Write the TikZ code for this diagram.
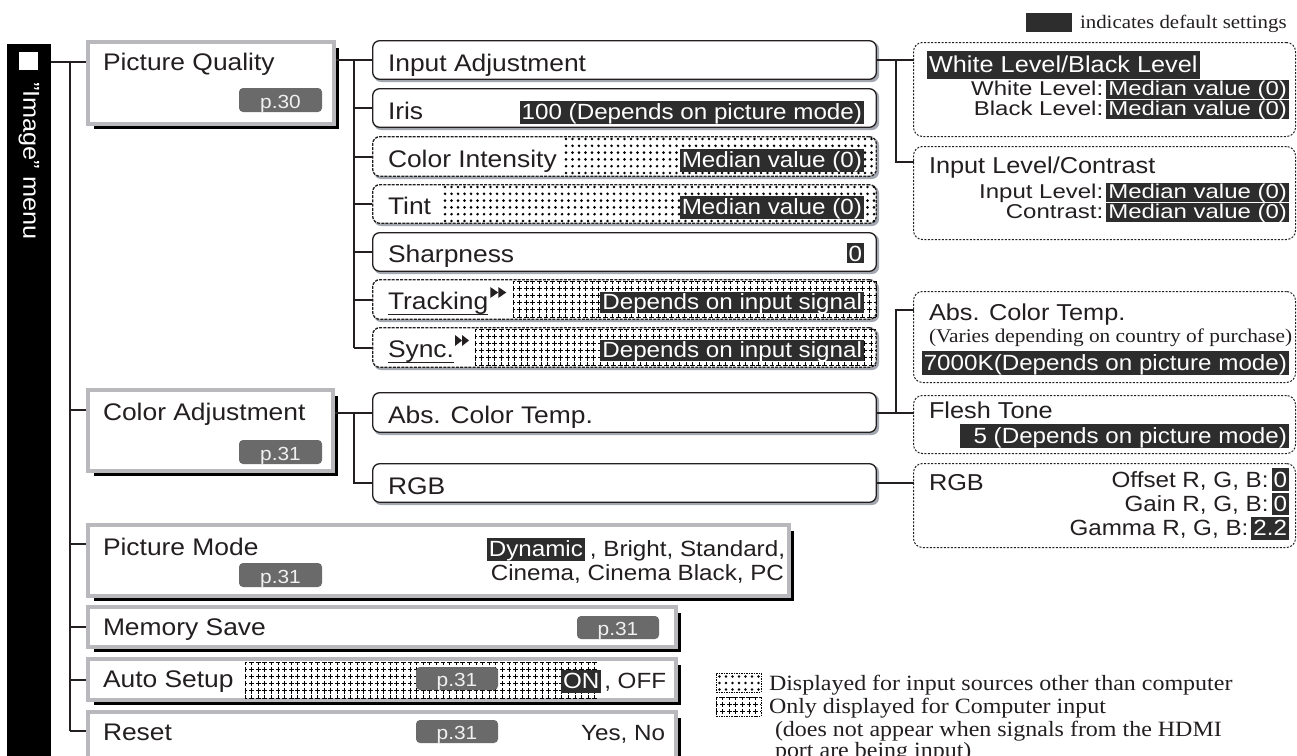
\documentclass[tikz,border=0pt]{standalone}
\usepackage{fontspec}
\setmainfont{Liberation Sans}[FakeStretch=1.1]
\newfontfamily\widesans{Liberation Sans}[FakeStretch=1.2]
\newfontfamily\tnr{Liberation Serif}[FakeStretch=1.1]
\usetikzlibrary{fit,calc}
\definecolor{ink}{HTML}{231F20}
\definecolor{hlc}{HTML}{2D2D2D}
\definecolor{bord}{HTML}{B9B9BD}
\definecolor{badgec}{HTML}{6A6A6A}
\definecolor{shad}{HTML}{A3A8B0}
\newcommand\fsz[1]{\fontsize{#1}{#1}\selectfont}
% level-1 box: name, x1,y1,x2,y2 (outer edges)
\newcommand\Lone[5]{%
  \draw[l1sh] (#4+1.5,#3+8) -- (#4+1.5,#5+1.5) -- (#2+8,#5+1.5);
  \node[l1box, fit={(#2+2,#3+2)(#4-2,#5-2)}] (#1) {};}
% level-2 box: [style] name, ytop, ybottom
\newcommand\Ltwo[4][l2box]{%
  \fill[l2sh] (374,#3+2) rectangle (879,#4+2);
  \node[#1, fit={(372.7,#3+0.7)(876.3,#4-0.7)}] (#2) {};}
% level-3 box: name, ytop, ybottom
\newcommand\Lthree[3]{\node[l3box, fit={(913.5,#2+0.5)(1295.5,#3-0.5)}] (#1) {};}
% page badge: name, x1,y1,x2,y2, text
\newcommand\Badge[6]{%
  \node[badge, fit={(#2,#3)(#4,#5)}] (#1) {};
  \node[btxt] at ($(#1.south)+(0,-3.5)$) {#6};}
% cross grid: x1,y1,nx,ny,x2,y2
\newcommand\Grid[6]{%
  \foreach \i in {0,...,#3} \draw[gridv] (#1+\i*6.6,#2) -- (#1+\i*6.6,#6);
  \foreach \j in {0,...,#4} \draw[gridh] (#1,#2+\j*7.2) -- (#5,#2+\j*7.2);}
% dots: x1,y1,nx,ny,dx,dy
\newcommand\Dots[6]{%
  \foreach \i in {0,...,#3}{\foreach \j in {0,...,#4}{\fill[black] (#1+\i*#5,#2+\j*#6) circle (1.45pt);}}}
\begin{document}
\begin{tikzpicture}[x=1pt,y=-1pt,
  every node/.style={inner sep=0pt, outer sep=0pt, text=ink},
  conn/.style={line width=2pt, draw=ink},
  l1box/.style={draw=bord, line width=4pt, fill=white, inner sep=0pt, outer sep=2pt},
  l1sh/.style={line width=3.5pt, draw=black},
  l2box/.style={draw=ink, line width=1.3pt, rounded corners=7pt, fill=white, inner sep=0pt, outer sep=0.65pt},
  l2dash/.style={l2box, dash pattern=on 3pt off 1.2pt},
  l2sh/.style={fill=shad, rounded corners=7pt},
  l3box/.style={draw=ink, line width=1pt, dash pattern=on 2pt off 1.5pt, rounded corners=9pt, inner sep=0pt},
  lab1/.style={anchor=base west, font=\fsz{24}},
  lab2/.style={anchor=base west, font=\fsz{24}},
  val/.style={anchor=base east, fill=hlc, text=white, inner xsep=2pt, inner ysep=0pt, text height=18pt, text depth=5pt, font=\fsz{22}},
  hl3/.style={anchor=base east, fill=hlc, text=white, inner xsep=2pt, inner ysep=0pt, text height=15pt, text depth=4pt, font=\widesans\fsz{20}},
  sub/.style={anchor=base east, font=\widesans\fsz{20}},
  sub2/.style={anchor=base east, font=\fsz{22}},
  tit3/.style={anchor=base west, font=\fsz{23}},
  badge/.style={fill=badgec, rounded corners=4pt, inner sep=0pt},
  btxt/.style={text=white!94!black, font=\fsz{19}, anchor=base},
  gridv/.style={draw=black, line width=1pt, dash pattern=on 5.4pt off 1.8pt, dash phase=2.7pt},
  gridh/.style={draw=black, line width=1pt, dash pattern=on 4.8pt off 1.8pt, dash phase=2.4pt},
  leg/.style={anchor=base west, font=\tnr\fsz{21.8}}]
\useasboundingbox (0,0) rectangle (1297,755);
\clip (0,0) rectangle (1297,755);
\fill[white] (0,0) rectangle (1297,755);

% ---- left menu bar ----
\node[fill=black, fit={(7,44)(51,770)}] (bar) {};
\node[fill=white, fit={(19,52)(38,70)}] (barsq) {};
\node[rotate=-90, anchor=west, text=white, font=\fsz{23}] (barlab) at (29,82) {"Image" menu};

% ---- coordinates for junctions ----
\coordinate (T1) at (70,0);
\coordinate (T2) at (354,0);
\coordinate (T3) at (896,0);
\coordinate (r1) at (0,62);
\coordinate (r2) at (0,410);
\coordinate (r3) at (0,544);
\coordinate (r4) at (0,627);
\coordinate (r5) at (0,680);
\coordinate (r6) at (0,731);
\coordinate (r7) at (0,162);
\coordinate (r8) at (0,310);

% ---- level-1 boxes ----
\Lone{pq}{86}{40}{336}{126}
\Lone{ca}{86}{388}{335}{473}
\Lone{pm}{86}{523}{791}{598}
\Lone{ms}{86}{605}{678}{649}
\Lone{as}{86}{657}{678}{702}
\Lone{rs}{86}{710}{678}{775}

% ---- level-2 boxes ----
\Ltwo{ia}{40}{80}
\Ltwo{ir}{88}{128}
\Ltwo[l2dash]{ci}{136}{177}
\Ltwo[l2dash]{ti}{184}{224}
\Ltwo{sh}{232}{272}
\Ltwo[l2dash]{tr}{279}{320}
\Ltwo[l2dash]{sy}{327}{368}
\Ltwo{act}{392}{433}
\Ltwo{rgb}{463}{503}

% ---- level-3 boxes ----
\Lthree{wb}{42}{137}
\Lthree{ilc}{146}{240}
\Lthree{abs}{291}{383}
\Lthree{fl}{395}{454}
\Lthree{rgbt}{463}{548}

% ---- connectors ----
\draw[conn] (bar.east |- r1) -- (pq.west |- r1);
\draw[conn] (T1 |- r1) -- (T1 |- r6);
\foreach \b/\r in {ca/r2, pm/r3, ms/r4, as/r5, rs/r6}
  \draw[conn] (T1 |- \r) -- (\b.west |- \r);
\draw[conn] (pq.east |- ia.west) -- (ia.west);
\draw[conn] (T2 |- ia.west) -- (T2 |- sy.west);
\foreach \b in {ir,ci,ti,sh,tr,sy}
  \draw[conn] (T2 |- \b.west) -- (\b.west);
\draw[conn] (ca.east |- act.west) -- (act.west);
\draw[conn] (T2 |- act.west) -- (T2 |- rgb.west) -- (rgb.west);
\draw[conn] (ia.east) -- (wb.west |- ia.east);
\draw[conn] (T3 |- ia.east) -- (T3 |- r7) -- (ilc.west |- r7);
\draw[conn] (act.east) -- (fl.west |- act.east);
\draw[conn] (T3 |- act.east) -- (T3 |- r8) -- (abs.west |- r8);
\draw[conn] (rgb.east) -- (rgbt.west |- rgb.east);

% ---- patterns ----
\Dots{566}{139}{47}{5}{6.5}{6.8}
\Dots{445}{187}{66}{5}{6.5}{6.8}
\Grid{513}{281}{55}{5}{876}{317}
\Grid{475}{329}{60}{5}{876}{365}
\Grid{245}{662}{53}{5}{598}{698}

% ---- badges ----
\Badge{bpq}{239}{88}{322}{112}{p.30}
\Badge{bca}{239}{440}{322}{464}{p.31}
\Badge{bpm}{239}{563}{322}{587}{p.31}
\Badge{bms}{577}{616}{659}{639}{p.31}
\Badge{bas}{416}{667}{498}{690}{p.31}
\Badge{brs}{416}{720}{498}{743}{p.31}

% ---- level-1 texts ----
\node[lab1] (pqt) at (103,70) {Picture Quality};
\node[lab1] (cat) at (103,420) {Color Adjustment};
\node[lab1] (pmt) at (103,555) {Picture Mode};
\node[lab1] (mst) at (103,635) {Memory Save};
\node[lab1] (ast) at (103,687) {Auto Setup};
\node[lab1] (rst) at (103,740) {Reset};
\node[anchor=base east, font=\fsz{22}] (pm1) at (785,556) {, Bright, Standard,};
\node[val] (dyn) at ($(pm1.base west)+(-5,0)$) {Dynamic};
\node[anchor=base east, font=\fsz{22}] (pm2) at (784,580) {Cinema, Cinema Black, PC};
\node[val, anchor=base west] (on) at (561,688) {ON};
\node[anchor=base west, font=\fsz{22}] (off) at ($(on.base east)+(3,0)$) {, OFF};
\node[anchor=base east, font=\fsz{22}] (yn) at (665,740) {Yes, No};

% ---- level-2 texts ----
\node[lab2] (iat) at (388,71) {Input Adjustment};
\node[lab2] (irt) at (388,119) {Iris};
\node[val] (irv) at (864,119) {100 (Depends on picture mode)};
\node[lab2] (cit) at (388,167) {Color Intensity};
\node[val] (civ) at (864,167) {Median value (0)};
\node[lab2] (tit) at (388,214) {Tint};
\node[val] (tiv) at (864,214) {Median value (0)};
\node[lab2] (sht) at (388,262) {Sharpness};
\node[val, text depth=2pt] (shv) at (864,261) {0};
\node[lab2] (trt) at (388,309) {Tracking};
\node[val, text height=17pt, text depth=4pt] (trv) at (864,309) {Depends on input signal};
\node[lab2] (syt) at (388,357) {Sync.};
\node[val, text height=17pt, text depth=4pt] (syv) at (864,357) {Depends on input signal};
\draw[ink, line width=1pt] ($(trt.base west)+(0,5)$) -- ($(trt.base east)+(0,5)$);
\draw[ink, line width=1pt] ($(syt.base west)+(0,5)$) -- ($(syt.base east)+(0,5)$);
\fill[ink] ($(trt.base east)+(2,-22)$) -- ++(8,5.5) -- ++(-8,5.5) -- cycle;
\fill[ink] ($(trt.base east)+(10,-22)$) -- ++(8,5.5) -- ++(-8,5.5) -- cycle;
\fill[ink] ($(syt.base east)+(1,-22)$) -- ++(7,5.5) -- ++(-7,5.5) -- cycle;
\fill[ink] ($(syt.base east)+(8,-22)$) -- ++(7,5.5) -- ++(-7,5.5) -- cycle;
\node[lab2] (actt) at (388,423) {Abs. Color Temp.};
\node[lab2] (rgbtt) at (388,494) {RGB};

% ---- level-3 texts ----
\node[anchor=base west, fill=hlc, text=white, font=\fsz{23}, inner xsep=2pt, text height=21pt, text depth=7pt] (wbh) at (927,72) {White Level/Black Level\hspace{18pt}};
\node[hl3] (wlv) at (1289,95) {Median value (0)};
\node[sub] (wll) at ($(wlv.base west)+(-3,0)$) {White Level:};
\node[hl3] (blv) at (1289,115) {Median value (0)};
\node[sub] (bll) at ($(blv.base west)+(-3,0)$) {Black Level:};
\node[tit3] (ilct) at (929,173) {Input Level/Contrast};
\node[hl3] (ilv) at (1289,198) {Median value (0)};
\node[sub] (ill) at ($(ilv.base west)+(-3,0)$) {Input Level:};
\node[hl3] (cov) at (1289,218) {Median value (0)};
\node[sub] (col) at ($(cov.base west)+(-3,0)$) {Contrast:};
\node[tit3] (abst) at (929,320) {Abs. Color Temp.};
\node[anchor=base west, font=\tnr\fsz{19.4}] (absn) at (929,342) {(Varies depending on country of purchase)};
\node[val, text height=19pt, text depth=5pt] (absv) at (1289,370) {7000K(Depends on picture mode)};
\node[tit3] (flt) at (929,418) {Flesh Tone};
\node[val, text height=19pt, text depth=5pt] (flv) at (1289,443) {\hspace*{12pt}5 (Depends on picture mode)};
\node[tit3] (rgbl) at (929,490) {RGB};
\node[val, text height=19pt, text depth=4pt] (ofv) at (1289,487) {0};
\node[sub2] (ofl) at ($(ofv.base west)+(-3,0)$) {Offset R, G, B:};
\node[val, text height=18pt, text depth=4pt] (gav) at (1289,511) {0};
\node[sub2] (gal) at ($(gav.base west)+(-3,0)$) {Gain R, G, B:};
\node[val, text height=18pt, text depth=5pt] (gmv) at (1289,535) {2.2};
\node[sub2] (gml) at ($(gmv.base west)+(-3,0)$) {Gamma R, G, B:};

% ---- legends ----
\node[fill=hlc, fit={(1026,13)(1072,32)}] (defkey) {};
\node[anchor=base west, font=\tnr\fsz{19}] (deftxt) at (1080,28) {indicates default settings};
\node[draw=black, line width=0.9pt, dash pattern=on 1.5pt off 1pt, fit={(716,673)(761,692)}] (dotkey) {};
\Dots{719.5}{676.5}{6}{2}{6.5}{6.5}
\node[draw=black, line width=0.9pt, dash pattern=on 1.5pt off 1pt, fit={(716,697)(761,716)}] (gridkey) {};
\Grid{716}{697}{6}{2}{761}{716}
\node[leg] (lg1) at (769,690) {Displayed for input sources other than computer};
\node[leg] (lg2) at (769,713) {Only displayed for Computer input};
\node[leg] (lg3) at (775,736) {(does not appear when signals from the HDMI};
\node[leg] (lg4) at (775,757) {port are being input)};
\end{tikzpicture}
\end{document}
